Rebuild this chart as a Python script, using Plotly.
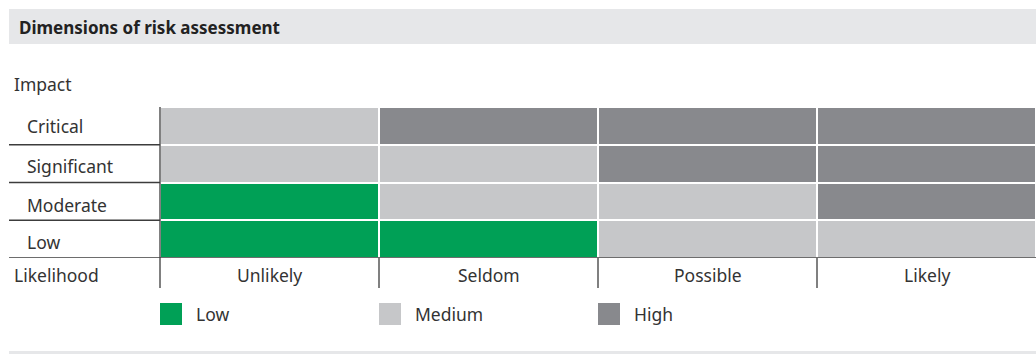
import plotly.graph_objects as go

# ---- data ----
likelihood = ["Unlikely", "Seldom", "Possible", "Likely"]
impact = ["Low", "Moderate", "Significant", "Critical"]  # bottom to top
level_names = ["Low", "Medium", "High"]
level_colors = ["#00a056", "#c6c7c9", "#88898d"]
# risk level index per impact row (bottom->top), per likelihood column
risk_low = [0, 0, 1, 1]
risk_moderate = [0, 1, 1, 2]
risk_significant = [1, 1, 2, 2]
risk_critical = [1, 2, 2, 2]
z = [risk_low, risk_moderate, risk_significant, risk_critical]

W, H = 1036, 354
def px_x(v): return v / W
def px_y(v): return (H - v) / H

FONT = "Noto Sans, Open Sans, sans-serif"
TXT = "#333333"
LINE = "#3c3c3c"
FS = 17.5

colorscale = [[0.0, level_colors[0]], [1/3, level_colors[0]],
              [1/3, level_colors[1]], [2/3, level_colors[1]],
              [2/3, level_colors[2]], [1.0, level_colors[2]]]

fig = go.Figure(go.Heatmap(
    z=z, x=likelihood, y=impact, zmin=-0.5, zmax=2.5,
    colorscale=colorscale, showscale=False, xgap=2, ygap=2,
    hoverinfo="skip"))

grid_top, grid_bot = 107, 258
fig.update_layout(
    width=W, height=H, margin=dict(l=0, r=0, t=0, b=0),
    paper_bgcolor="white", plot_bgcolor="white",
    font=dict(family=FONT, size=FS, color=TXT),
    xaxis=dict(domain=[px_x(160), 1], range=[-0.5, 3.5], showticklabels=False,
               showgrid=False, zeroline=False, ticks="", fixedrange=True),
    yaxis=dict(domain=[px_y(grid_bot), px_y(grid_top)], range=[-0.5, 3.5],
               showticklabels=False, showgrid=False, zeroline=False, ticks="",
               fixedrange=True),
    showlegend=False,
)

shapes = []
# title bar
shapes.append(dict(type="rect", xref="paper", yref="paper", x0=px_x(9), x1=1,
                   y0=px_y(44), y1=px_y(9), fillcolor="#e6e7e9", line_width=0, layer="below"))
# bottom bar
shapes.append(dict(type="rect", xref="paper", yref="paper", x0=px_x(9), x1=1,
                   y0=0, y1=px_y(351), fillcolor="#e6e7e9", line_width=0, layer="below"))
# row separators on the left label area
for yb in [0.5, 1.5, 2.5]:
    shapes.append(dict(type="line", xref="paper", yref="y", x0=px_x(9), x1=px_x(160),
                       y0=yb, y1=yb, line=dict(color=LINE, width=1.3)))
# bottom line of grid
shapes.append(dict(type="line", xref="paper", yref="y", x0=px_x(9), x1=1,
                   y0=-0.5, y1=-0.5, line=dict(color=LINE, width=1.3)))
# left vertical line of grid, down into likelihood row
shapes.append(dict(type="line", xref="paper", yref="paper", x0=px_x(160), x1=px_x(160),
                   y0=px_y(288), y1=px_y(grid_top), line=dict(color=LINE, width=1.3)))
# column ticks in likelihood row
for xb in [0.5, 1.5, 2.5]:
    shapes.append(dict(type="line", xref="x", yref="paper", x0=xb, x1=xb,
                       y0=px_y(288), y1=px_y(grid_bot), line=dict(color=LINE, width=1.3)))

annotations = []
annotations.append(dict(text="<b>Dimensions of risk assessment</b>", xref="paper", yref="paper",
                        x=px_x(17), y=px_y(27), xanchor="left", yanchor="middle",
                        showarrow=False, font=dict(size=17, color="#222222")))
annotations.append(dict(text="Impact", xref="paper", yref="paper", x=px_x(12), y=px_y(84),
                        xanchor="left", yanchor="middle", showarrow=False))
annotations.append(dict(text="Likelihood", xref="paper", yref="paper", x=px_x(12), y=px_y(275),
                        xanchor="left", yanchor="middle", showarrow=False))
row_label_px = [242, 205, 165.5, 125.5]  # vertical text positions (bottom->top rows)
for lab, ypx in zip(impact, row_label_px):
    annotations.append(dict(text=lab, xref="paper", yref="paper", x=px_x(25), y=px_y(ypx),
                            xanchor="left", yanchor="middle", showarrow=False))
for j, lab in enumerate(likelihood):
    annotations.append(dict(text=lab, xref="x", yref="paper", x=j, y=px_y(275),
                            xanchor="center", yanchor="middle", showarrow=False))

# legend
for k, (name, col) in enumerate(zip(level_names, level_colors)):
    x0 = k - 0.5
    shapes.append(dict(type="rect", xref="x", yref="paper", x0=x0, x1=x0 + 22 / 219,
                       y0=px_y(325), y1=px_y(303), fillcolor=col, line_width=0))
    annotations.append(dict(text=name, xref="x", yref="paper", x=x0 + 34 / 219, y=px_y(313.5),
                            xanchor="left", yanchor="middle", showarrow=False))

fig.update_layout(shapes=shapes, annotations=annotations)
fig.write_html("out.html")
